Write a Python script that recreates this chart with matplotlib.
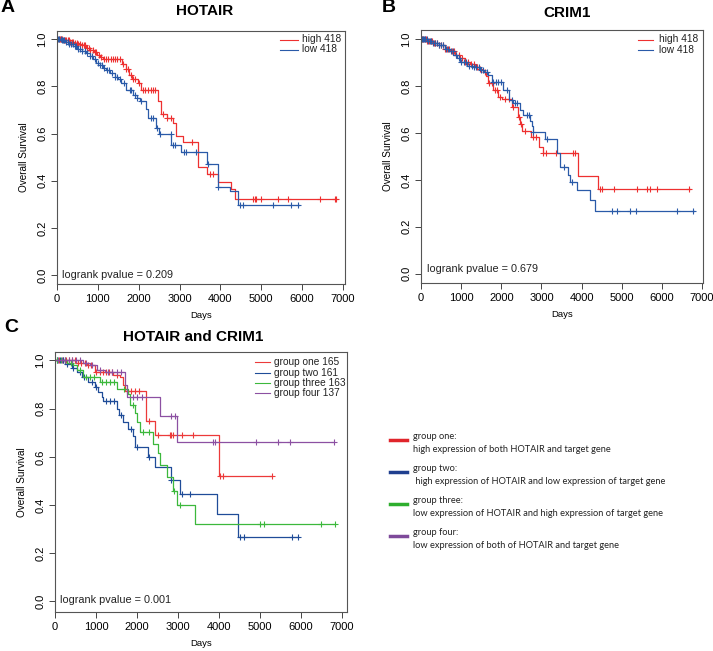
import numpy as np
import matplotlib
matplotlib.use("Agg")
import matplotlib.pyplot as plt
from matplotlib.lines import Line2D

plt.rcParams['font.family'] = ['Liberation Sans', 'DejaVu Sans']

# ---- data (step times in days, survival after the step) ----

# A: HOTAIR
a_high_t = [0, 150, 300, 420, 520, 600, 700, 800, 900, 980, 1060, 1130, 1600, 1680, 1760, 1840,
            1980, 2060, 2480, 2550, 2700, 2840, 2920, 3080, 3450, 3680, 3940, 4270, 4350]
a_high_s = [1.0, 0.995, 0.99, 0.985, 0.98, 0.975, 0.965, 0.955, 0.945, 0.935, 0.925, 0.915, 0.895,
            0.875, 0.85, 0.83, 0.815, 0.785, 0.74, 0.685, 0.665, 0.645, 0.59, 0.565, 0.46, 0.43,
            0.395, 0.365, 0.322]
a_high_end = 6840
a_high_cens = [40, 70, 100, 130, 160, 190, 230, 260, 290, 330, 360, 400, 440, 480, 520, 560, 610,
               650, 690, 730, 780, 820, 870, 920, 960, 1020, 1080, 1150, 1200, 1260, 1320, 1380,
               1430, 1480, 1540, 1620, 1700, 1730, 1800, 1870, 1920, 2000, 2100, 2160, 2230, 2300,
               2340, 2400, 2600, 2700, 2780, 3300, 3750, 3820, 4800, 4840, 4880, 5000, 5410, 5650,
               6430, 6800, 6840]

a_low_t = [0, 100, 200, 300, 400, 500, 600, 700, 800, 880, 960, 1050, 1130, 1210, 1300, 1410,
           1500, 1575, 1700, 1860, 1950, 2020, 2190, 2230, 2430, 2500, 2800, 3045, 3660, 3940,
           4230, 4430]
a_low_s = [1.0, 0.995, 0.99, 0.98, 0.97, 0.96, 0.95, 0.94, 0.93, 0.915, 0.90, 0.89, 0.88, 0.87,
           0.855, 0.84, 0.83, 0.815, 0.785, 0.765, 0.75, 0.74, 0.705, 0.665, 0.622, 0.60, 0.55,
           0.52, 0.47, 0.372, 0.355, 0.297]
a_low_end = 5930
a_low_cens = [30, 60, 90, 120, 150, 180, 220, 260, 300, 340, 380, 430, 470, 520, 570, 620, 680,
              740, 800, 860, 920, 1000, 1050, 1100, 1160, 1220, 1280, 1350, 1420, 1480, 1550, 1650,
              1780, 1820, 1900, 1960, 2060, 2300, 2350, 2460, 2530, 2780, 2850, 2900, 3100, 3150,
              3400, 3700, 3950, 4470, 4550, 5290, 5740, 5900]

# B: CRIM1
b_high_t = [0, 150, 300, 450, 600, 720, 850, 970, 1100, 1220, 1340, 1450, 1550, 1630, 1675, 1800,
            1925, 2007, 2255, 2420, 2470, 2505, 2730, 2935, 3030, 3915, 4410]
b_high_s = [1.0, 0.995, 0.985, 0.975, 0.96, 0.95, 0.935, 0.92, 0.905, 0.895, 0.883, 0.875, 0.86,
            0.845, 0.815, 0.783, 0.755, 0.744, 0.71, 0.67, 0.64, 0.608, 0.584, 0.541, 0.513,
            0.416, 0.362]
b_high_end = 6700
b_high_cens = [30, 60, 90, 120, 160, 200, 240, 280, 320, 360, 400, 450, 500, 550, 600, 650, 700,
               760, 820, 880, 950, 1020, 1100, 1180, 1250, 1330, 1400, 1480, 1600, 1700, 1780,
               1850, 1900, 1980, 2100, 2200, 2300, 2450, 2480, 2600, 2800, 2860, 3040, 3120, 3375,
               3790, 3830, 4460, 4517, 4808, 5373, 5637, 5705, 5870, 6685]

b_low_t = [0, 150, 300, 450, 600, 700, 805, 900, 970, 1140, 1300, 1470, 1580, 1675, 1760, 2050,
           2190, 2300, 2465, 2530, 2712, 2760, 2795, 3085, 3400, 3460, 3665, 3710, 3890, 4220, 4345]
b_low_s = [1.0, 0.995, 0.985, 0.975, 0.96, 0.95, 0.935, 0.92, 0.905, 0.887, 0.88, 0.87, 0.86,
           0.85, 0.818, 0.783, 0.74, 0.73, 0.70, 0.677, 0.652, 0.63, 0.603, 0.574, 0.513, 0.456,
           0.42, 0.392, 0.356, 0.313, 0.268]
b_low_end = 6790
b_low_cens = [20, 50, 80, 110, 140, 180, 220, 260, 300, 350, 400, 450, 500, 560, 620, 680, 740,
              800, 870, 940, 1000, 1060, 1120, 1200, 1260, 1320, 1380, 1440, 1500, 1550, 1650,
              1800, 1880, 1930, 2000, 2150, 2260, 2330, 2400, 2650, 2700, 2800, 3130, 3550, 3750,
              4750, 4890, 5205, 5347, 6385, 6770]

# C: HOTAIR and CRIM1, four groups
c_one_t = [0, 500, 770, 975, 1420, 1580, 1665, 1705, 2210, 2435, 3995]
c_one_s = [1.0, 0.99, 0.98, 0.95, 0.94, 0.93, 0.90, 0.873, 0.747, 0.69, 0.52]
c_one_end = 5300
c_one_cens = [100, 200, 280, 350, 420, 480, 560, 640, 720, 800, 880, 1000, 1100, 1180, 1250,
              1320, 1400, 1500, 1760, 1850, 1950, 2050, 2300, 2520, 2800, 2840, 2880, 3085, 3370,
              4020, 4100, 5300]

c_two_t = [0, 250, 406, 530, 650, 810, 975, 1060, 1137, 1180, 1500, 1560, 1665, 1785, 1910, 1950,
           2275, 2435, 2820, 3050, 3960, 4470]
c_two_s = [1.0, 0.985, 0.97, 0.95, 0.93, 0.91, 0.89, 0.87, 0.85, 0.83, 0.80, 0.775, 0.745, 0.716,
           0.685, 0.64, 0.60, 0.557, 0.502, 0.447, 0.361, 0.268]
c_two_end = 5930
c_two_cens = [60, 120, 200, 300, 450, 620, 700, 900, 1000, 1250, 1350, 1430, 1620, 1850, 2000,
              2300, 2830, 3100, 3300, 4520, 4610, 5790, 5930]

c_three_t = [0, 300, 430, 530, 690, 1100, 1500, 1790, 1830, 1950, 2010, 2070, 2380, 2520, 2560,
             2720, 2880, 2970, 3420]
c_three_s = [1.0, 0.99, 0.98, 0.96, 0.93, 0.91, 0.882, 0.86, 0.816, 0.78, 0.745, 0.703, 0.654,
             0.615, 0.564, 0.516, 0.458, 0.398, 0.32]
c_three_end = 6830
c_three_cens = [50, 150, 250, 380, 600, 750, 850, 950, 1150, 1250, 1350, 1430, 1680, 1900, 2150,
                2300, 2900, 3050, 4990, 5100, 6480, 6830]

c_four_t = [0, 690, 850, 1015, 1220, 1705, 1745, 2560, 2980]
c_four_s = [1.0, 0.99, 0.98, 0.96, 0.95, 0.90, 0.85, 0.77, 0.661]
c_four_end = 6800
c_four_cens = [80, 160, 240, 330, 420, 520, 620, 750, 900, 1100, 1300, 1400, 1500, 1600, 1910,
               1990, 2110, 2840, 2920, 3860, 3900, 4900, 5440, 5725, 6800]

ab_labels = ["high 418", "low 418"]
c_labels = ["group one 165", "group two 161", "group three 163", "group four 137"]
pvalues = ["0.209", "0.679", "0.001"]
titles = ["HOTAIR", "CRIM1", "HOTAIR and CRIM1"]

group_desc = [
    ("group one:", "high expression of both HOTAIR and target gene"),
    ("group two:", " high expression of HOTAIR and low expression of target gene"),
    ("group three:", "low expression of HOTAIR and high expression of target gene"),
    ("group four:", "low expression of both of HOTAIR and target gene"),
]

RED = "#ee3030"
BLUE = "#2a5aa8"
C_COLS = ["#ec3a3a", "#1f4c98", "#3cb83c", "#8c50a2"]
DESC_COLS = ["#e0252b", "#1f3f8f", "#2eae2e", "#7e4a9a"]

W, H = 713, 651


def px(x, y):
    # figure pixel (from top-left) -> figure fraction
    return x / W, 1 - y / H


def km(ax, t, s, end, cens, color):
    t = np.asarray(t, float)
    s = np.asarray(s, float)
    ax.step(np.append(t, end), np.append(s, s[-1]), where='post', color=color, lw=0.9)
    idx = np.searchsorted(t, cens, side='right') - 1
    ax.plot(cens, s[idx], '+', color=color, ms=4.5, mew=0.8, ls='none')


def style_axes(ax, xmax, ylo, yhi):
    ax.set_xlim(0, xmax)
    ax.set_ylim(ylo, yhi)
    ax.set_xticks(range(0, 7001, 1000))
    ax.set_yticks([0.0, 0.2, 0.4, 0.6, 0.8, 1.0])
    ax.set_yticklabels(["0.0", "0.2", "0.4", "0.6", "0.8", "1.0"], rotation=90, va='center')
    ax.tick_params(direction='out', length=4, width=0.7, color='#444444', labelsize=8.0, pad=3)
    for sp in ax.spines.values():
        sp.set_color('#555555')
        sp.set_linewidth(0.8)
    ax.set_xlabel("Days", fontsize=6.8, labelpad=5)
    ax.set_ylabel("Overall Survival", fontsize=7.2, labelpad=6)


fig = plt.figure(figsize=(W / 100, H / 100), dpi=100)

axA = fig.add_axes([57 / W, 1 - 284 / H, (345 - 57) / W, (284 - 31) / H])
axB = fig.add_axes([421 / W, 1 - 283 / H, (703 - 421) / W, (283 - 30) / H])
axC = fig.add_axes([55 / W, 1 - 612 / H, (347 - 55) / W, (612 - 352) / H])

# A
km(axA, a_high_t, a_high_s, a_high_end, a_high_cens, RED)
km(axA, a_low_t, a_low_s, a_low_end, a_low_cens, BLUE)
style_axes(axA, 7050, -0.038, 1.035)

# B
km(axB, b_high_t, b_high_s, b_high_end, b_high_cens, RED)
km(axB, b_low_t, b_low_s, b_low_end, b_low_cens, BLUE)
style_axes(axB, 7025, -0.04, 1.04)

# C
km(axC, c_one_t, c_one_s, c_one_end, c_one_cens, C_COLS[0])
km(axC, c_two_t, c_two_s, c_two_end, c_two_cens, C_COLS[1])
km(axC, c_three_t, c_three_s, c_three_end, c_three_cens, C_COLS[2])
km(axC, c_four_t, c_four_s, c_four_end, c_four_cens, C_COLS[3])
style_axes(axC, 7120, -0.044, 1.035)

# in-plot legends (R style, no box)
for ax, x0, x1, xt, rows, labels, cols in [
        (axA, 280, 298, 302, [39.5, 49.5], ab_labels, [RED, BLUE]),
        (axB, 638, 653, 659, [39.5, 50], ab_labels, [RED, BLUE]),
        (axC, 255, 270, 274, [362, 372.5, 383, 393.5], c_labels, C_COLS)]:
    for y, lab, col in zip(rows, labels, cols):
        fig.add_artist(Line2D([x0 / W, x1 / W], [1 - y / H] * 2, color=col, lw=0.8))
        fig.text(xt / W, 1 - y / H, lab, fontsize=7.3, va='center', ha='left', color='#222222')

# logrank p-values
for (x, y), p in zip([(62, 275), (427, 269), (60, 600)], pvalues):
    fig.text(*px(x, y), "logrank pvalue = " + p, fontsize=7.8, va='center', ha='left',
             color='#222222')

# titles and panel letters
for (x, y), t in zip([(205, 11), (567, 13), (193, 337)], titles):
    fig.text(*px(x, y), t, fontsize=11, fontweight='bold', ha='center', va='center')
for (x, y), t in zip([(8, 8), (389, 8), (11, 328)], ["A", "B", "C"]):
    fig.text(*px(x, y), t, fontsize=14, fontweight='bold', ha='center', va='center')

# group description key on the right
for i, ((head, desc), col) in enumerate(zip(group_desc, DESC_COLS)):
    y = 440 + i * 32
    fig.add_artist(Line2D([390 / W, 407 / W], [1 - y / H] * 2, color=col, lw=2.5))
    fig.text(*px(413, y - 3.5), head, fontsize=6.7, va='center', ha='left',
             family=['Lato', 'DejaVu Sans'], color='#222222')
    fig.text(*px(413, y + 9), desc, fontsize=6.7, va='center', ha='left',
             family=['Lato', 'DejaVu Sans'], color='#222222')

fig.savefig("out.png", dpi=100)
